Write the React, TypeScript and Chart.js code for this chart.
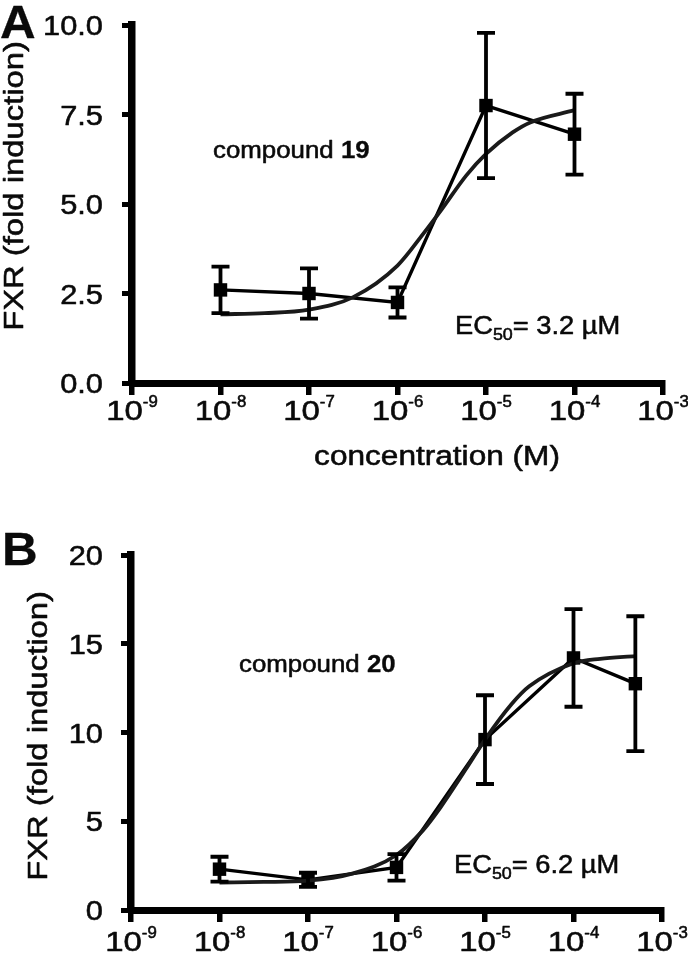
import React, { useEffect, useRef } from "react";
import { Chart, registerables } from "chart.js";

Chart.register(...registerables);

// ---------- data ----------
const xTickExponents = [-9, -8, -7, -6, -5, -4, -3];
const xMin = 1e-9;
const xMax = 1e-3;

// Panel A (compound 19)
const concA = [1e-8, 1e-7, 1e-6, 1e-5, 1e-4];
const meanA = [2.6, 2.5, 2.25, 7.75, 6.95];
const sdA = [0.65, 0.7, 0.42, 2.03, 1.13];
const fitConcA = [1e-8, 3.16e-8, 1e-7, 3.16e-7, 1e-6, 2e-6, 3.16e-6, 6e-6, 1e-5, 2e-5, 3.16e-5, 1e-4];
const fitA = [1.92, 1.95, 2.05, 2.4, 3.28, 4.2, 4.85, 5.8, 6.4, 7.0, 7.28, 7.62];
const yTicksA = [0, 2.5, 5, 7.5, 10];
const yLabelsA = ["0.0", "2.5", "5.0", "7.5", "10.0"];

// Panel B (compound 20)
const concB = [1e-8, 1e-7, 1e-6, 1e-5, 1e-4, 5e-4];
const meanB = [2.3, 1.7, 2.4, 9.6, 14.2, 12.75];
const sdB = [0.7, 0.4, 0.75, 2.5, 2.75, 3.8];
const fitConcB = [1e-8, 3.16e-8, 1e-7, 3.16e-7, 1e-6, 2e-6, 3.16e-6, 6.2e-6, 1e-5, 2e-5, 3.16e-5, 1e-4, 2e-4, 5e-4];
const fitB = [1.55, 1.58, 1.65, 2.05, 3.1, 4.5, 5.8, 8.0, 9.6, 11.6, 12.6, 13.9, 14.15, 14.3];
const yTicksB = [0, 5, 10, 15, 20];
const yLabelsB = ["0", "5", "10", "15", "20"];

const yTitle = "FXR (fold induction)";
const xTitle = "concentration (M)";

// ---------- styling / layout ----------
const FONT = '"Liberation Sans", Arial, Helvetica, sans-serif';
const INK = "#0a0a0a";

type Part = { t: string; size: number; bold?: boolean; dy?: number; sx?: number };

function runWidth(ctx: CanvasRenderingContext2D, parts: Part[], sx: number) {
  let w = 0;
  for (const p of parts) {
    ctx.font = `${p.bold ? "bold " : ""}${p.size}px ${FONT}`;
    w += ctx.measureText(p.t).width * (p.sx ?? sx);
  }
  return w;
}

function drawRun(ctx: CanvasRenderingContext2D, parts: Part[], x: number, y: number, sx: number) {
  let cx = x;
  for (const p of parts) {
    const s = p.sx ?? sx;
    ctx.save();
    ctx.font = `${p.bold ? "bold " : ""}${p.size}px ${FONT}`;
    const w = ctx.measureText(p.t).width * s;
    ctx.translate(cx, y + (p.dy || 0));
    ctx.scale(s, 1);
    ctx.textAlign = "left";
    ctx.textBaseline = "alphabetic";
    ctx.fillStyle = INK;
    ctx.strokeStyle = INK;
    ctx.lineWidth = p.bold ? 0.3 : 0.55;
    ctx.lineJoin = "round";
    ctx.fillText(p.t, 0, 0);
    ctx.strokeText(p.t, 0, 0);
    ctx.restore();
    cx += w;
  }
}

type PanelCfg = {
  height: number;
  padTop: number;
  padRight: number;
  yAxisW: number;
  xAxisH: number;
  ymax: number;
  yTicks: number[];
  yLabels: string[];
  conc: number[];
  mean: number[];
  sd: number[];
  fitConc: number[];
  fit: number[];
  letter: string;
  letterPos: [number, number];
  compound: string;
  compoundPos: [number, number];
  ec50: string;
  ec50Pos: [number, number];
  yTitlePos: [number, number];
  xLabelBaseline: number;
  showXTitle: boolean;
  xTitlePos: [number, number];
};

const panelA: PanelCfg = {
  height: 490,
  padTop: 25,
  padRight: 25,
  yAxisW: 132,
  xAxisH: 107,
  ymax: 10,
  yTicks: yTicksA,
  yLabels: yLabelsA,
  conc: concA,
  mean: meanA,
  sd: sdA,
  fitConc: fitConcA,
  fit: fitA,
  letter: "A",
  letterPos: [0, 38],
  compound: "19",
  compoundPos: [213, 158],
  ec50: "3.2",
  ec50Pos: [455, 334],
  yTitlePos: [23, 186],
  xLabelBaseline: 420,
  showXTitle: true,
  xTitlePos: [437, 465],
};

const panelB: PanelCfg = {
  height: 467,
  padTop: 65,
  padRight: 26,
  yAxisW: 131,
  xAxisH: 47,
  ymax: 20,
  yTicks: yTicksB,
  yLabels: yLabelsB,
  conc: concB,
  mean: meanB,
  sd: sdB,
  fitConc: fitConcB,
  fit: fitB,
  letter: "B",
  letterPos: [2, 75],
  compound: "20",
  compoundPos: [239, 182],
  ec50: "6.2",
  ec50Pos: [454, 383],
  yTitlePos: [47, 246],
  xLabelBaseline: 461,
  showXTitle: false,
  xTitlePos: [0, 0],
};

function makePlugin(P: PanelCfg) {
  return {
    id: "panelDecor" + P.letter,
    afterDatasetsDraw(chart: any) {
      const ctx: CanvasRenderingContext2D = chart.ctx;
      const xs = chart.scales.x;
      const ys = chart.scales.y;
      ctx.save();
      ctx.strokeStyle = "#000";
      ctx.lineWidth = 3.8;
      ctx.lineCap = "butt";
      P.conc.forEach((c, i) => {
        const px = xs.getPixelForValue(c);
        const top = ys.getPixelForValue(P.mean[i] + P.sd[i]);
        const bot = ys.getPixelForValue(P.mean[i] - P.sd[i]);
        ctx.beginPath();
        ctx.moveTo(px, top);
        ctx.lineTo(px, bot);
        ctx.moveTo(px - 9, top);
        ctx.lineTo(px + 9, top);
        ctx.moveTo(px - 9, bot);
        ctx.lineTo(px + 9, bot);
        ctx.stroke();
      });
      ctx.restore();
    },
    afterDraw(chart: any) {
      const ctx: CanvasRenderingContext2D = chart.ctx;
      const xs = chart.scales.x;
      const ys = chart.scales.y;
      ctx.save();
      // y tick labels
      P.yTicks.forEach((v, i) => {
        const py = ys.getPixelForValue(v);
        const parts: Part[] = [{ t: P.yLabels[i], size: 28 }];
        const w = runWidth(ctx, parts, 1.1);
        drawRun(ctx, parts, 103 - w, py + 10, 1.1);
      });
      // x tick labels 10^n
      xTickExponents.forEach((e) => {
        const px = xs.getPixelForValue(Math.pow(10, e));
        const parts: Part[] = [
          { t: "10", size: 27, sx: 1.22 },
          { t: String(e), size: 16, dy: -13, sx: 1.05 },
        ];
        const w = runWidth(ctx, parts, 1.2);
        drawRun(ctx, parts, px - w / 2, P.xLabelBaseline, 1.2);
      });
      // y title
      ctx.save();
      ctx.translate(P.yTitlePos[0], P.yTitlePos[1]);
      ctx.rotate(-Math.PI / 2);
      const tParts: Part[] = [{ t: yTitle, size: 28.5 }];
      const tw = runWidth(ctx, tParts, 1.15);
      drawRun(ctx, tParts, -tw / 2, 0, 1.15);
      ctx.restore();
      // x title
      if (P.showXTitle) {
        const xp: Part[] = [{ t: xTitle, size: 27 }];
        const xw = runWidth(ctx, xp, 1.17);
        drawRun(ctx, xp, P.xTitlePos[0] - xw / 2, P.xTitlePos[1], 1.17);
      }
      // panel letter
      drawRun(ctx, [{ t: P.letter, size: 47, bold: true }], P.letterPos[0], P.letterPos[1], 1.05);
      // compound label
      drawRun(
        ctx,
        [
          { t: "compound ", size: 23.5 },
          { t: P.compound, size: 23.5, bold: true },
        ],
        P.compoundPos[0],
        P.compoundPos[1],
        1.1
      );
      // EC50 label
      drawRun(
        ctx,
        [
          { t: "EC", size: 26 },
          { t: "50", size: 17, dy: 6 },
          { t: "= " + P.ec50 + " \u00b5M", size: 26 },
        ],
        P.ec50Pos[0],
        P.ec50Pos[1],
        1.05
      );
      ctx.restore();
    },
  };
}

function buildConfig(P: PanelCfg): any {
  const axisGrid = {
    display: true,
    drawOnChartArea: false,
    drawTicks: true,
    color: "#000",
  };
  return {
    type: "line",
    data: {
      datasets: [
        {
          label: "fit",
          data: P.fitConc.map((c, i) => ({ x: c, y: P.fit[i] })),
          borderColor: "#1a1a1a",
          borderWidth: 3.8,
          pointRadius: 0,
          cubicInterpolationMode: "monotone",
          fill: false,
        },
        {
          label: "data",
          data: P.conc.map((c, i) => ({ x: c, y: P.mean[i] })),
          borderColor: "#000",
          borderWidth: 3.4,
          pointStyle: "rect",
          pointRadius: 9.5,
          pointBackgroundColor: "#000",
          pointBorderColor: "#000",
          pointBorderWidth: 0,
          tension: 0,
          fill: false,
        },
      ],
    },
    options: {
      animation: false,
      responsive: false,
      events: [],
      layout: { padding: { left: 0, top: P.padTop, right: P.padRight, bottom: 0 } },
      plugins: { legend: { display: false }, tooltip: { enabled: false } },
      scales: {
        x: {
          type: "logarithmic",
          min: xMin,
          max: xMax,
          afterBuildTicks: (s: any) => {
            s.ticks = xTickExponents.map((e) => ({ value: Math.pow(10, e) }));
          },
          afterFit: (s: any) => {
            s.height = P.xAxisH;
          },
          ticks: { display: false },
          grid: { ...axisGrid, tickLength: 12, lineWidth: 5.5, tickWidth: 5.5 },
          border: { display: true, color: "#000", width: 7 },
        },
        y: {
          type: "linear",
          min: 0,
          max: P.ymax,
          afterBuildTicks: (s: any) => {
            s.ticks = P.yTicks.map((v) => ({ value: v }));
          },
          afterFit: (s: any) => {
            s.width = P.yAxisW;
          },
          ticks: { display: false },
          grid: { ...axisGrid, tickLength: 10, lineWidth: 5, tickWidth: 5 },
          border: { display: true, color: "#000", width: 7.5 },
        },
      },
    },
    plugins: [makePlugin(P)],
  };
}

function Panel({ cfg }: { cfg: PanelCfg }) {
  const ref = useRef<HTMLCanvasElement | null>(null);
  useEffect(() => {
    if (!ref.current) return;
    const chart = new Chart(ref.current, buildConfig(cfg));
    return () => chart.destroy();
  }, [cfg]);
  return (
    <canvas
      ref={ref}
      width={688}
      height={cfg.height}
      style={{ display: "block", width: 688, height: cfg.height }}
    />
  );
}

export default function App() {
  return (
    <div
      style={{
        position: "absolute",
        left: 0,
        top: 0,
        width: 688,
        height: 957,
        background: "#fff",
      }}
    >
      <Panel cfg={panelA} />
      <Panel cfg={panelB} />
    </div>
  );
}
